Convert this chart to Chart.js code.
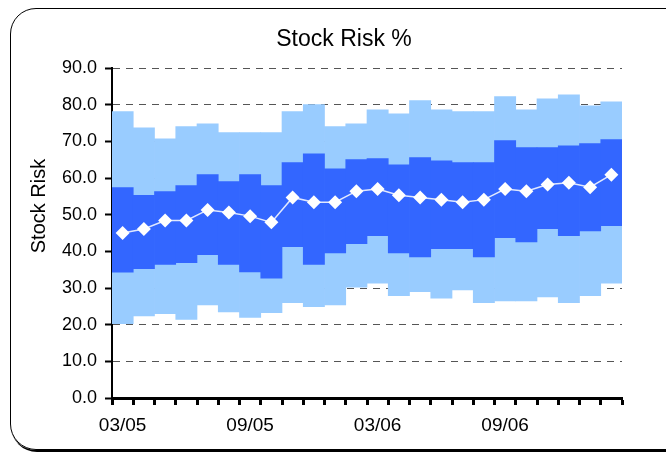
<!DOCTYPE html>
<html>
<head>
<meta charset="utf-8">
<script src="https://cdn.jsdelivr.net/npm/chart.js@4/dist/chart.umd.min.js"></script>
<style>
  html, body { margin: 0; padding: 0; background: #fff; }
  #wrap { position: relative; width: 666px; height: 453px; overflow: hidden; }
  #frame { position: absolute; left: 10px; top: 8px; width: 680px; height: 440px;
           border: 1.5px solid #000; border-radius: 26px; box-shadow: 1px 2px 0 #000; }
  #c { position: absolute; left: 0; top: 0; }
</style>
</head>
<body>
<div id="wrap">
  <div id="frame"></div>
  <canvas id="c" width="666" height="453"></canvas>
</div>
<script>
// Months (category axis)
const months = ["03/05","04/05","05/05","06/05","07/05","08/05","09/05","10/05","11/05","12/05","01/06","02/06",
                "03/06","04/06","05/06","06/06","07/06","08/06","09/06","10/06","11/06","12/06","01/07","02/07"];
// Outer band (light blue): low and high
const outerLow  = [20.3,22.4,23.0,21.4,25.4,23.5,22.0,23.3,26.0,24.9,25.4,30.2,31.3,27.9,29.0,27.2,29.5,26.0,26.5,26.5,27.6,26.0,27.9,31.3];
const outerHigh = [78.1,73.7,70.7,74.0,74.8,72.4,72.4,72.4,78.1,80.0,74.0,74.8,78.6,77.5,81.1,78.6,78.1,78.1,82.2,78.6,81.6,82.7,79.7,80.8];
// Inner band (dark blue): low and high
const innerLow  = [34.3,35.3,36.4,36.9,39.1,36.4,34.4,32.7,41.3,36.4,39.6,42.1,44.3,39.6,38.5,40.7,40.7,38.5,43.7,42.6,46.2,44.3,45.6,47.0];
const innerHigh = [57.4,55.3,56.3,57.9,60.9,59.0,60.9,57.9,64.2,66.6,62.5,65.0,65.3,63.6,65.6,64.7,64.2,64.2,70.2,68.3,68.3,68.8,69.4,70.5];
// Stock risk line
const stockRisk = [45.0,46.1,48.4,48.4,51.3,50.6,49.6,47.9,54.7,53.4,53.4,56.4,57.0,55.3,54.7,54.1,53.4,54.1,57.0,56.4,58.2,58.7,57.5,60.9];
// Y tick range
const yMin = 0, yMax = 90, yStep = 10;

const FONT = "'Liberation Sans', Arial, sans-serif";

const yTitlePlugin = {
  id: 'yTitle',
  afterDraw(chart) {
    const ctx = chart.ctx;
    ctx.save();
    ctx.translate(39, 206);
    ctx.rotate(-Math.PI / 2);
    ctx.font = "20px " + FONT;
    ctx.fillStyle = '#000';
    ctx.textAlign = 'center';
    ctx.textBaseline = 'middle';
    ctx.fillText('Stock Risk', 0, 0);
    ctx.restore();
  }
};

new Chart(document.getElementById('c'), {
  type: 'bar',
  data: {
    labels: months,
    datasets: [
      {
        type: 'line',
        label: 'Stock Risk',
        data: stockRisk,
        order: 0,
        yAxisID: 'y',
        borderColor: 'rgba(255,255,255,0.85)',
        borderWidth: 1.5,
        pointStyle: 'rectRot',
        pointRadius: 7,
        pointBackgroundColor: '#fff',
        pointBorderColor: '#fff',
        pointBorderWidth: 0,
        tension: 0,
        fill: false
      },
      {
        label: 'Inner',
        data: innerLow.map((v, i) => [v, innerHigh[i]]),
        order: 1,
        yAxisID: 'y',
        backgroundColor: '#3366FF',
        borderWidth: 0,
        grouped: false,
        barPercentage: 1,
        categoryPercentage: 1
      },
      {
        label: 'Outer',
        data: outerLow.map((v, i) => [v, outerHigh[i]]),
        order: 2,
        yAxisID: 'y',
        backgroundColor: '#99CCFF',
        borderWidth: 0,
        grouped: false,
        barPercentage: 1,
        categoryPercentage: 1
      }
    ]
  },
  options: {
    responsive: false,
    animation: false,
    devicePixelRatio: 1,
    layout: { padding: { left: 22, right: 0, top: 26, bottom: 5 } },
    plugins: {
      legend: { display: false },
      tooltip: { enabled: false },
      title: {
        display: true,
        text: 'Stock Risk %',
        color: '#000',
        font: { family: FONT, size: 23, weight: 'normal' },
        padding: { top: 0, bottom: 14.4 }
      }
    },
    scales: {
      x: {
        type: 'category',
        offset: true,
        afterFit(scale) { scale.height = 50; },
        grid: {
          offset: true,
          drawOnChartArea: false,
          drawTicks: true,
          tickLength: 7,
          tickWidth: 3,
          tickColor: '#000',
          color: '#000'
        },
        border: { display: true, color: '#000', width: 3 },
        ticks: {
          autoSkip: false,
          maxRotation: 0,
          minRotation: 0,
          padding: 9,
          color: '#000',
          font: { family: FONT, size: 19 },
          callback: function (val, i) { return i % 6 === 0 ? this.getLabelForValue(val) : ''; }
        }
      },
      y: {
        min: yMin,
        max: yMax,
        afterFit(scale) { scale.width = 90; },
        grid: {
          drawTicks: true,
          tickLength: 7,
          tickWidth: 2,
          tickColor: '#000',
          lineWidth: 1,
          color: (ctx) => (ctx.tick && ctx.tick.value === 0) ? 'rgba(0,0,0,0)' : '#555'
        },
        border: { display: true, color: '#000', width: 2, dash: [7, 6] },
        ticks: {
          stepSize: yStep,
          padding: 8,
          color: '#000',
          font: { family: FONT, size: 18 },
          callback: (v) => Number(v).toFixed(1)
        }
      },
      yRight: {
        type: 'linear',
        position: 'right',
        display: true,
        afterFit(scale) { scale.width = 44; },
        grid: { display: false, drawTicks: false },
        border: { display: false },
        ticks: { display: false }
      }
    }
  },
  plugins: [yTitlePlugin]
});
</script>
</body>
</html>
